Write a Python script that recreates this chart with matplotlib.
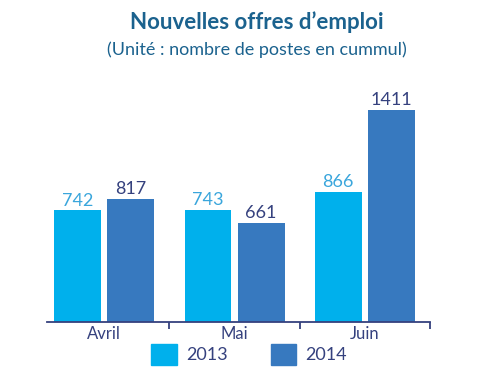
import numpy as np
import matplotlib.pyplot as plt
from matplotlib.patches import Patch

plt.rcParams['font.family'] = ['Lato', 'DejaVu Sans']

# data
months = ['Avril', 'Mai', 'Juin']
offres_2013 = [742, 743, 866]
offres_2014 = [817, 661, 1411]
years = ['2013', '2014']

col_2013 = '#00b0ec'
col_2014 = '#3779bf'
navy = '#35417e'

fig = plt.figure(figsize=(4.98, 3.76), dpi=100)
ax = fig.add_axes([0.0944, 0.1436, 0.769, 0.62])

x = np.arange(len(months))
w = 0.36
off = 0.204
b1 = ax.bar(x - off, offres_2013, w, color=col_2013)
b2 = ax.bar(x + off, offres_2014, w, color=col_2014)

for rect, v in zip(b1, offres_2013):
    ax.text(rect.get_x() + rect.get_width() / 2, v + 12, str(v),
            ha='center', va='bottom', fontsize=13, color='#3aa6dc')
for rect, v in zip(b2, offres_2014):
    ax.text(rect.get_x() + rect.get_width() / 2, v + 12, str(v),
            ha='center', va='bottom', fontsize=13, color=navy)

ax.set_xlim(-0.44, 2.5)
ax.set_ylim(0, 1550)
for s in ['top', 'right', 'left']:
    ax.spines[s].set_visible(False)
ax.spines['bottom'].set_color(navy)
ax.spines['bottom'].set_linewidth(1.3)
ax.set_yticks([])

ax.set_xticks([0.5, 1.5, 2.5])
ax.set_xticklabels([])
ax.tick_params(axis='x', which='major', length=5, width=1.3, color=navy, direction='out')
ax.set_xticks(x, minor=True)
ax.set_xticklabels(months, minor=True, fontsize=12, color=navy)
ax.tick_params(axis='x', which='minor', length=0, pad=3)

fig.text(0.516, 0.94, 'Nouvelles offres d\u2019emploi', ha='center', va='center',
         fontsize=16, fontweight='bold', color='#1b628e')
fig.text(0.516, 0.868, '(Unité : nombre de postes en cummul)', ha='center', va='center',
         fontsize=13, color='#1b628e')

handles = [Patch(color=col_2013), Patch(color=col_2014)]
fig.legend(handles, years, loc='center', bbox_to_anchor=(0.5, 0.058), ncol=2,
           frameon=False, fontsize=13, labelcolor=navy, handlelength=1.4,
           handleheight=1.4, handletextpad=0.5, columnspacing=2.4)

fig.savefig('out.png', dpi=100)
